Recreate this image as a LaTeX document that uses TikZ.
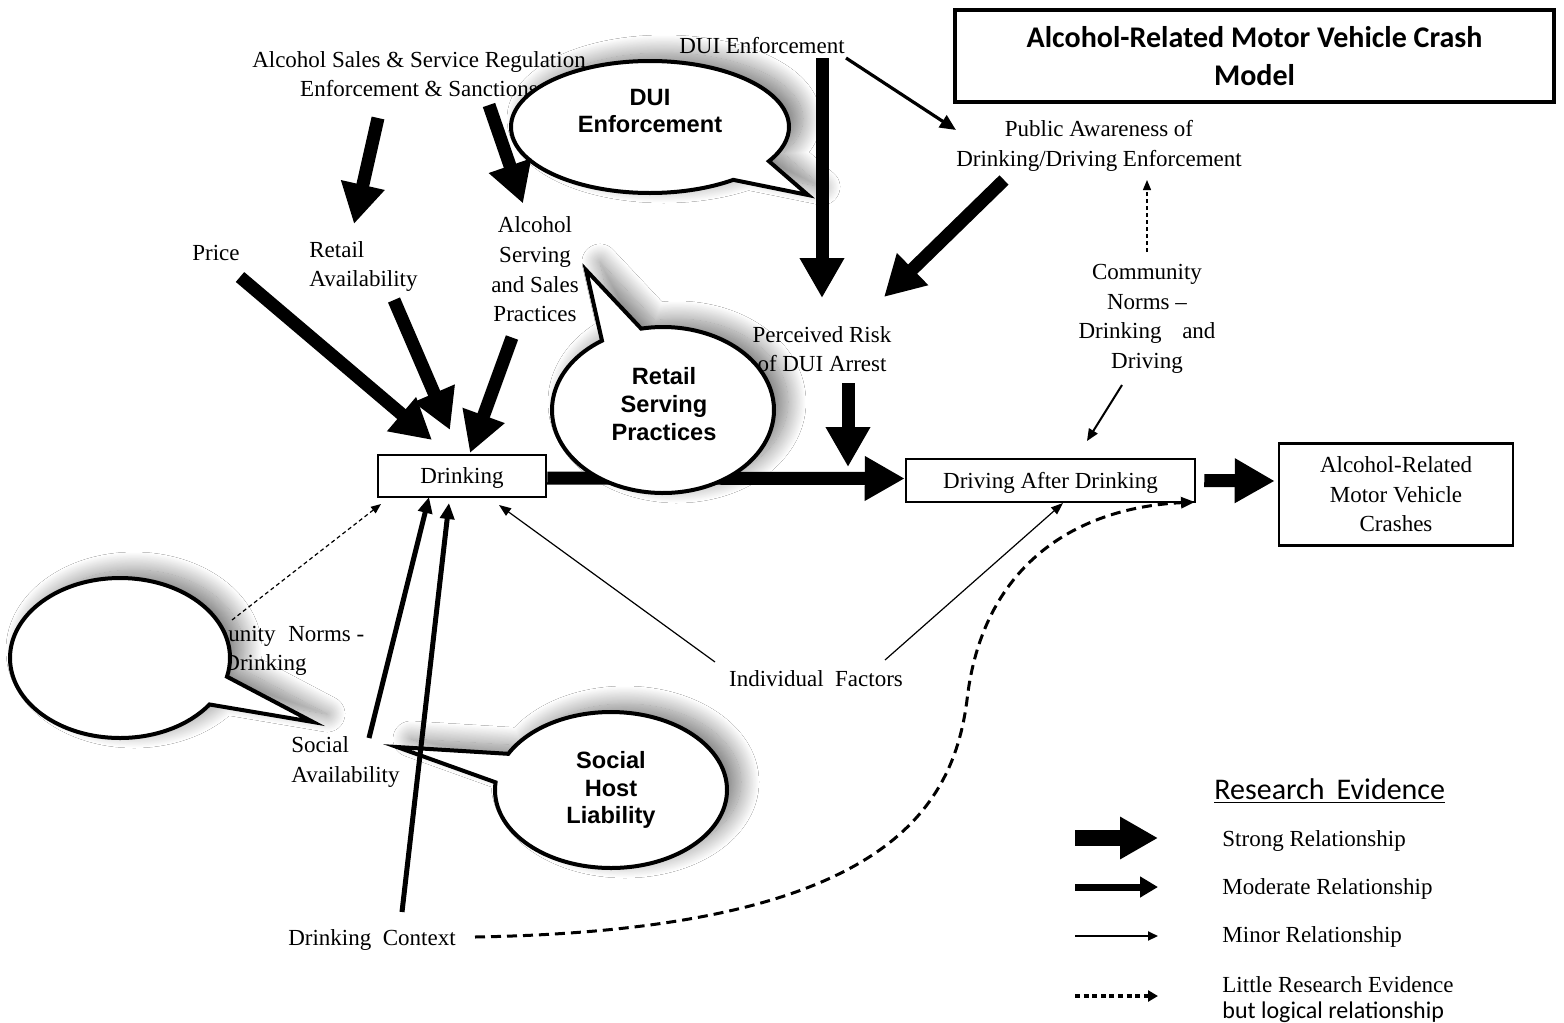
\documentclass[tikz,border=0pt]{standalone}
\usepackage{fontspec}
\setmainfont{Liberation Serif}
\newfontfamily\arialf{Liberation Sans}
\newfontfamily\calf{Carlito}
\usetikzlibrary{arrows.meta,calc,shapes.callouts,shadows.blur}
\begin{document}
\begin{tikzpicture}[x=0.5pt,y=-0.5pt,
  txt/.style={inner sep=0pt, align=center, font=\fontsize{11.5pt}{14.8pt}\selectfont},
  box/.style={draw, line width=1.25pt, inner sep=0pt, align=center, font=\fontsize{11.5pt}{14.75pt}\selectfont},
  strong/.style={line width=6.5pt, -{Triangle[length=20pt,width=21pt]}},
  moder/.style={line width=2.5pt, -{Triangle[length=8pt,width=7pt]}},
  mid/.style={line width=1.6pt, -{Triangle[length=8pt,width=7pt]}},
  light/.style={line width=1pt, -{Triangle[length=6pt,width=5pt]}},
  minor/.style={line width=0.6pt, -{Triangle[length=6pt,width=4.5pt]}},
  dashthin/.style={line width=0.6pt, dash pattern=on 2pt off 1.5pt, -{Triangle[length=5pt,width=4pt]}},
  dashthick/.style={line width=1.5pt, dash pattern=on 5pt off 3pt, -{Triangle[length=7pt,width=5.5pt]}},
  bubble/.style={ellipse callout, draw, line width=2pt, fill=white, callout pointer arc=22,
    blur shadow={shadow xshift=7pt, shadow yshift=4pt, shadow blur radius=9pt, shadow blur steps=24, shadow opacity=50}},
  btxt/.style={inner sep=0pt, align=center, font=\arialf\bfseries\fontsize{11.8pt}{13.8pt}\selectfont},
  legtxt/.style={inner sep=0pt, anchor=west, align=left, font=\fontsize{11.5pt}{14pt}\selectfont}
]
\path[fill=white] (0,0) rectangle (1564,1023);
\useasboundingbox (0,0) rectangle (1564,1023);

% ---------- text nodes ----------
\node[txt] (asr) at (419,74) {Alcohol Sales \& Service Regulation\\Enforcement \& Sanctions};
\node[txt] (dui) at (762,46) {DUI Enforcement};
\node[txt] (pub) at (1099,146) {Public Awareness of\\Drinking/Driving Enforcement};
\node[txt] (serv) at (535,269.5) {Alcohol\\Serving\\and Sales\\Practices};
\node[txt] (price) at (216,253) {Price};
\node[txt, align=left, anchor=west] (retail) at (309,266.5) {Retail\\Availability};
\node[txt] (perc) at (822,349) {Perceived Risk\\of DUI Arrest};
\node[txt] (cnr) at (1147,319) {Community\\Norms --\\Drinking\hspace{0.9em}and\\Driving};
\node[txt] (cnl) at (265,651) {Community\hspace{0.3em} Norms -\\Drinking};
\node[txt, align=left, anchor=west] (social) at (291,762) {Social\\Availability};
\node[txt] (indiv) at (816,679) {Individual\hspace{0.25em} Factors};
\node[txt] (ctx) at (372,940) {Drinking\hspace{0.25em} Context};

% ---------- boxes ----------
\node[draw, line width=1.6pt, minimum width=299.5pt, minimum height=46pt, inner sep=0pt, align=center,
  font=\calf\bfseries\fontsize{15pt}{19pt}\selectfont, text depth=0pt] (title) at (1254.5,56) {Alcohol-Related Motor Vehicle Crash\\Model};
\node[box, minimum width=84pt, minimum height=21pt, text depth=0pt] (drink) at (462,476) {Drinking};
\node[box, minimum width=144.5pt, minimum height=21.5pt, text depth=0pt] (drive) at (1050.5,480.5) {Driving After Drinking};
\node[box, minimum width=117pt, minimum height=51pt] (crash) at (1396,494.5) {Alcohol-Related\\Motor Vehicle\\Crashes};

% main arrow (under the callout)
\draw[strong] ($(drink.east)+(0,2)$) -- ($(drive.west)+(0,-2)$);

% ---------- callouts ----------
\node[bubble, minimum width=139pt, minimum height=66pt, callout absolute pointer={(808,195)}] (cdui) at (650,127) {};
\node[btxt] (tdui) at (650,111) {DUI\\Enforcement};
\node[bubble, minimum width=111pt, minimum height=83pt, callout absolute pointer={(586,270)}] (cret) at (663,410) {};
\node[btxt] (tret) at (664,404) {Retail\\Serving\\Practices};
\node[bubble, minimum width=110pt, minimum height=80pt, callout absolute pointer={(313,722)}] (cemp) at (120,658) {};
\node[bubble, minimum width=116pt, minimum height=78pt, callout absolute pointer={(397,747)}] (chost) at (611,790) {};
\node[btxt] (thost) at (611,790) {Social\\Host\\Liability};

% ---------- connectors ----------
\draw[strong] ($(asr)+(-41,44)$) -- ($(retail.west)+(45,-42.5)$);
\draw[strong] ($(asr)+(70,31)$) -- ($(serv)+(-12,-66)$);
\draw[strong] ($(dui)+(60,12)$) -- ($(perc)+(0,-51)$);
\draw[mid] ($(dui)+(84,12)$) -- ($(pub)+(-143,-16)$);
\draw[strong] ($(pub)+(-95,34)$) -- ($(perc)+(62,-52)$);
\draw[dashthin] ($(cnr)+(0,-67)$) -- ($(pub)+(48,34)$);
\draw[light] ($(cnr)+(-25,66)$) -- ($(drive)+(36.5,-39.5)$);
\draw[strong] ($(perc)+(26,34)$) -- ($(perc)+(26,118)$);
\draw[strong] ($(price)+(24,24)$) -- ($(drink)+(-30,-36)$);
\draw[strong] ($(retail.west)+(85,33.5)$) -- ($(drink)+(-12,-46)$);
\draw[strong] ($(serv)+(-23,68)$) -- ($(drink)+(8,-23)$);
\draw[strong] ($(drive.east)+(8,0)$) -- ($(crash.west)+(-3,-13.5)$);
\draw[dashthin] ($(cnl)+(-33,-31)$) -- ($(drink)+(-81,28)$);
\draw[moder] ($(social.west)+(78,-24)$) -- ($(drink)+(-33,21)$);
\draw[moder] ($(ctx)+(30,-28)$) -- ($(drink)+(-13,27)$);
\draw[minor] ($(indiv)+(-101,-17)$) -- ($(drink)+(37,29)$);
\draw[minor] ($(indiv)+(69,-19)$) -- ($(drive)+(12.5,22.5)$);
\draw[dashthick] ($(ctx)+(103,-3)$) .. controls ($(ctx)+(500,-10)$) and ($(ctx)+(580,-122)$) .. ($(ctx)+(595,-240)$)
  .. controls ($(ctx)+(610,-372)$) and ($(ctx)+(700,-432)$) .. ($(drive)+(144.5,21.5)$);

% ---------- legend ----------
\node[inner sep=0pt, anchor=west, font=\calf\fontsize{15pt}{18pt}\selectfont] (legt) at (1214,791) {\underline{Research\hspace{0.4em}Evidence}};
\node[legtxt] (l1) at (1222,841) {Strong Relationship};
\node[legtxt] (l2) at (1222,889) {Moderate Relationship};
\node[legtxt] (l3) at (1222,937) {Minor Relationship};
\node[legtxt] (l4) at (1222,985) {Little Research Evidence};
\node[inner sep=0pt, anchor=west, font=\calf\fontsize{12pt}{14pt}\selectfont] (l5) at (1222,1012) {but logical relationship};
\coordinate (s1) at (1075,838); \coordinate (e1) at (1158,838);
\coordinate (s2) at (1075,887); \coordinate (e2) at (1158,887);
\coordinate (s3) at (1075,936); \coordinate (e3) at (1158,936);
\coordinate (s4) at (1075,996); \coordinate (e4) at (1158,996);
\draw[line width=8pt, -{Triangle[length=19pt,width=20pt]}] (s1) -- (e1);
\draw[line width=3.5pt, -{Triangle[length=9pt,width=10pt]}] (s2) -- (e2);
\draw[line width=1pt, -{Triangle[length=5pt,width=4.5pt]}] (s3) -- (e3);
\draw[line width=2pt, dash pattern=on 2.5pt off 1.8pt, -{Triangle[length=5pt,width=5.5pt]}] (s4) -- (e4);
\end{tikzpicture}
\end{document}
